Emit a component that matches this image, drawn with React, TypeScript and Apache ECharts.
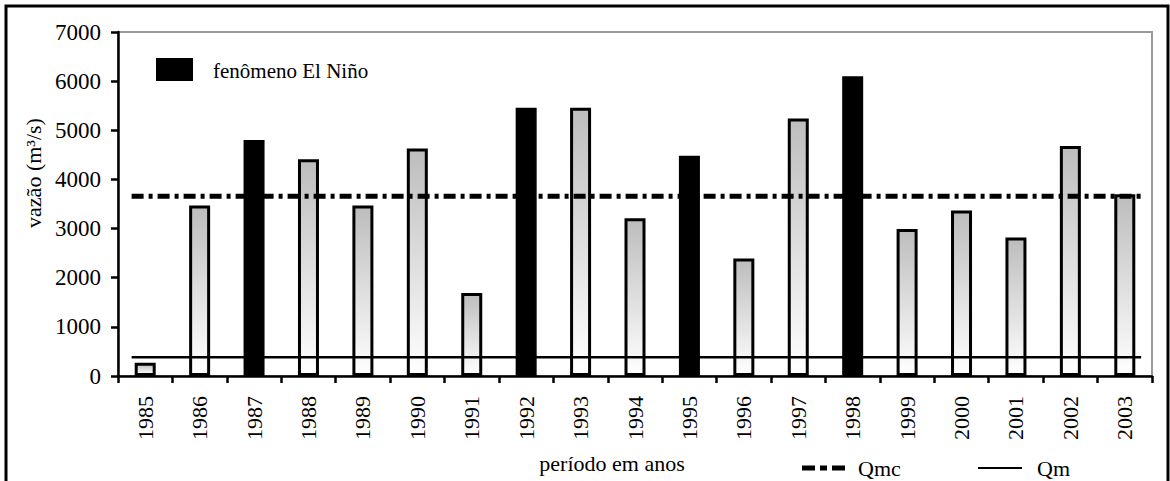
import React, { useEffect, useRef } from "react";
import * as echarts from "echarts";

const years = ["1985", "1986", "1987", "1988", "1989", "1990", "1991", "1992", "1993", "1994", "1995", "1996", "1997", "1998", "1999", "2000", "2001", "2002", "2003"];
const vazao = [270, 3470, 4800, 4410, 3470, 4630, 1690, 5460, 5460, 3210, 4480, 2390, 5240, 6100, 2990, 3370, 2820, 4680, 3700];
const elNinoYears = ["1987", "1992", "1995", "1998"];
const qmcValue = 3660;
const qmValue = 380;
const lineSpan = [0.25, 18.8];

const FONT = "'Liberation Serif', 'Times New Roman', serif";

export default function App() {
  const ref = useRef<HTMLDivElement>(null);
  useEffect(() => {
    document.body.style.margin = "0";
    const chart = echarts.init(ref.current!, null, { renderer: "svg" });
    const gradient = new echarts.graphic.LinearGradient(0, 0, 0, 1, [
      { offset: 0, color: "#bdbdbd" },
      { offset: 1, color: "#ffffff" },
    ]);
    const barData = vazao.map((v, i) => {
      const nino = elNinoYears.includes(years[i]);
      return {
        value: v,
        itemStyle: nino
          ? { color: "#000", borderColor: "#000", borderWidth: 1.5 }
          : { color: gradient, borderColor: "#000", borderWidth: 3 },
      };
    });
    chart.setOption({
      animation: false,
      backgroundColor: "#fff",
      textStyle: { fontFamily: FONT, color: "#000" },
      grid: { left: 118, right: 18, top: 32, bottom: 105, show: true, borderColor: "#9a9a9a", borderWidth: 2, containLabel: false },
      xAxis: [
        {
          type: "category",
          data: years,
          boundaryGap: true,
          axisLine: { lineStyle: { color: "#000", width: 2.5 } },
          axisTick: { show: true, length: 7, interval: 0, alignWithLabel: false, lineStyle: { color: "#000", width: 2.5 } },
          axisLabel: { rotate: 90, interval: 0, margin: 20, fontSize: 22, fontFamily: FONT, color: "#000" },
          splitLine: { show: false },
        },
        { type: "value", min: 0, max: 19, show: false },
      ],
      yAxis: {
        type: "value",
        min: 0,
        max: 7000,
        interval: 1000,
        axisLine: { show: true, lineStyle: { color: "#000", width: 2.5 } },
        axisTick: { show: true, length: 7, lineStyle: { color: "#000", width: 2.5 } },
        axisLabel: { margin: 17, fontSize: 23, fontFamily: FONT, color: "#000", formatter: (v: number) => String(v) },
        splitLine: { show: false },
      },
      series: [
        { type: "bar", name: "vazão", data: barData, barWidth: 21, z: 2 },
        {
          type: "line",
          name: "Qmc",
          xAxisIndex: 1,
          data: [[lineSpan[0], qmcValue], [lineSpan[1], qmcValue]],
          symbol: "none",
          lineStyle: { color: "#000", width: 5, type: [12, 5, 4, 5] },
          z: 5,
        },
        {
          type: "line",
          name: "Qm",
          xAxisIndex: 1,
          data: [[lineSpan[0], qmValue], [lineSpan[1], qmValue]],
          symbol: "none",
          lineStyle: { color: "#000", width: 2.5 },
          z: 5,
        },
      ],
      graphic: [
        { type: "rect", shape: { x: 6, y: 6, width: 1162, height: 600 }, style: { fill: "none", stroke: "#000", lineWidth: 3 }, silent: true },
        { type: "rect", shape: { x: 156, y: 58, width: 37, height: 23 }, style: { fill: "#000" } },
        { type: "text", x: 213, y: 71, style: { text: "fenômeno El Niño", font: `21px ${FONT}`, fill: "#000", verticalAlign: "middle" } },
        { type: "text", x: 33, y: 173, rotation: Math.PI / 2, style: { text: "vazão (m³/s)", font: `22px ${FONT}`, fill: "#000", align: "center", verticalAlign: "middle" } },
        { type: "text", x: 612, y: 463, style: { text: "período em anos", font: `22px ${FONT}`, fill: "#000", align: "center", verticalAlign: "middle" } },
        { type: "line", shape: { x1: 802, y1: 468, x2: 846, y2: 468 }, style: { stroke: "#000", lineWidth: 5, lineDash: [13, 5, 7, 5] } },
        { type: "text", x: 858, y: 468, style: { text: "Qmc", font: `22px ${FONT}`, fill: "#000", verticalAlign: "middle" } },
        { type: "line", shape: { x1: 978, y1: 468, x2: 1022, y2: 468 }, style: { stroke: "#000", lineWidth: 2 } },
        { type: "text", x: 1037, y: 468, style: { text: "Qm", font: `22px ${FONT}`, fill: "#000", verticalAlign: "middle" } },
      ],
    });
    return () => chart.dispose();
  }, []);
  return <div ref={ref} style={{ width: 1170, height: 481 }} />;
}
